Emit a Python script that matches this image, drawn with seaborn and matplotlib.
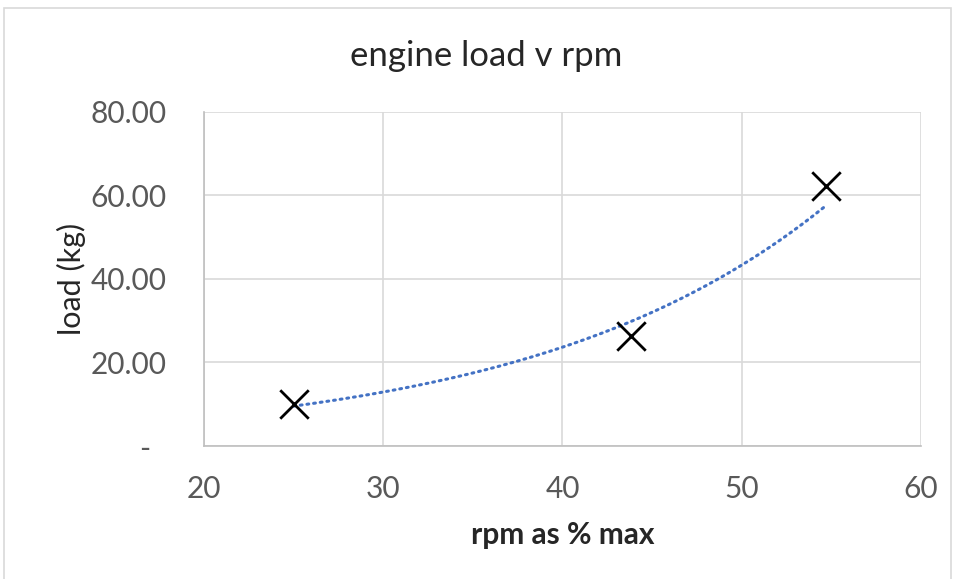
import numpy as np
import pandas as pd
import matplotlib
matplotlib.use("Agg")
import matplotlib.pyplot as plt
import seaborn as sns
from matplotlib.patches import Rectangle

rpm_pct = [25.0, 43.8, 54.7]
load_kg = [10.0, 26.3, 62.3]
x_ticks = [20, 30, 40, 50, 60]
y_ticks = [0, 20, 40, 60, 80]
y_tick_labels = ["-  ", "20.00", "40.00", "60.00", "80.00"]

sns.set_style("white")
plt.rcParams["font.family"] = ["Lato", "DejaVu Sans"]

df = pd.DataFrame({"rpm": rpm_pct, "load": load_kg})

# exponential trendline (least squares on log y, as Excel does)
b, ln_a = np.polyfit(df["rpm"], np.log(df["load"]), 1)
tx = np.linspace(min(rpm_pct), max(rpm_pct), 200)
trend = pd.DataFrame({"rpm": tx, "load": np.exp(ln_a + b * tx)})

fig = plt.figure(figsize=(9.55, 5.79), dpi=100)
ax = fig.add_axes([0.2136, 0.2297, 0.7508, 0.5769])

ax.set_xlim(20, 60)
ax.set_ylim(0, 80)
ax.set_xticks(x_ticks)
ax.set_yticks(y_ticks)
ax.set_yticklabels(y_tick_labels)
ax.grid(True, color="#d9d9d9", linewidth=1.2)
ax.set_axisbelow(True)
for s in ["top", "right"]:
    ax.spines[s].set_visible(False)
for s in ["left", "bottom"]:
    ax.spines[s].set_color("#bfbfbf")
    ax.spines[s].set_linewidth(1.2)

sns.lineplot(data=trend, x="rpm", y="load", ax=ax, color="#4472C4",
             linewidth=2.2, linestyle=(0, (0.6, 1.6)), zorder=2)
ax.lines[-1].set_dash_capstyle("round")
sns.scatterplot(data=df, x="rpm", y="load", ax=ax, marker="x", s=420,
                color="black", linewidth=2.0, zorder=3)

ax.tick_params(axis="both", length=0, labelsize=21.5, labelcolor="#595959")
ax.tick_params(axis="y", pad=27)
ax.tick_params(axis="x", pad=21)
ax.set_xlabel("rpm as % max", fontsize=21.5, fontweight="bold", labelpad=13)
ax.set_ylabel("load (kg)", fontsize=22, labelpad=3)
fig.text(0.509, 0.903, "engine load v rpm", fontsize=25, ha="center", va="center")

fig.patches.append(Rectangle((0.004, -0.01), 0.992, 0.997, transform=fig.transFigure,
                             fill=False, edgecolor="#d9d9d9", linewidth=1.2))

fig.savefig("out.png", dpi=100)
